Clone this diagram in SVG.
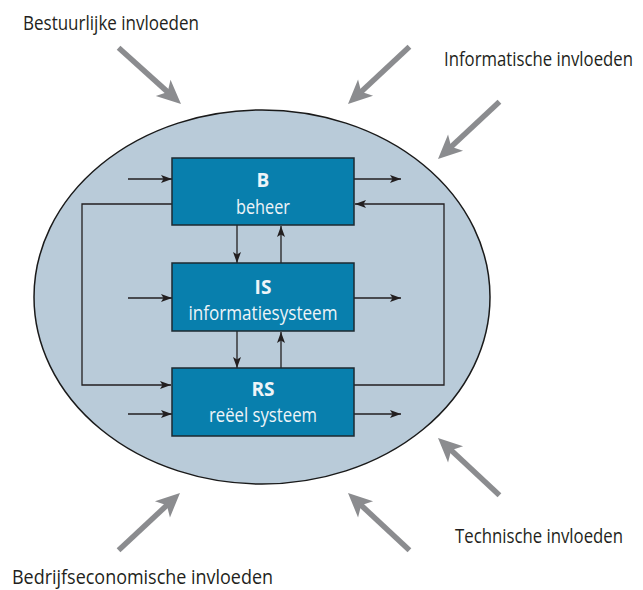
<svg xmlns="http://www.w3.org/2000/svg" width="643" height="590" viewBox="0 0 643 590">
  <style>
    .lbl { font-family: "Open Sans", "Noto Sans", "Liberation Sans", sans-serif; font-size: 20px; fill: #231f20; }
    .box { fill: #087fad; stroke: #1d2a30; stroke-width: 1.5; }
    .bt { font-family: "Open Sans", "Noto Sans", "Liberation Sans", sans-serif; font-size: 20px; fill: #eef4f8; text-anchor: middle; }
    .bt.b { font-weight: bold; font-size: 19px; }
    .flow { fill: none; stroke: #231f20; stroke-width: 1.3; }
  </style>
  <defs>
    <marker id="ah" markerUnits="userSpaceOnUse" markerWidth="12" markerHeight="10" viewBox="0 0 12 10" refX="11" refY="5" orient="auto">
      <path d="M0,1 L11,5 L0,9 L2.5,5 Z" fill="#231f20"/>
    </marker>
    <!-- wide grey arrow pointing along +x, tip at the origin -->
    <g id="bigArrow">
      <line x1="-84" y1="0" x2="-14" y2="0" stroke="#8b8c8f" stroke-width="5.5"/>
      <path d="M0,0 L-24,-11 L-18,0 L-24,11 Z" fill="#8b8c8f"/>
    </g>
  </defs>

  <!-- environment -->
  <g id="environment">
    <ellipse cx="262" cy="297" rx="228" ry="187" fill="#b9cbd9" stroke="#1a1a1a" stroke-width="1.5"/>
  </g>

  <!-- external influences -->
  <g id="influences">
    <use href="#bigArrow" transform="translate(181,104) rotate(42)"/>
    <use href="#bigArrow" transform="translate(348,104) rotate(137)"/>
    <use href="#bigArrow" transform="translate(438,159) rotate(137)"/>
    <use href="#bigArrow" transform="translate(438,438) rotate(-137)"/>
    <use href="#bigArrow" transform="translate(180,493) rotate(-43)"/>
    <use href="#bigArrow" transform="translate(348,493) rotate(-137)"/>
  </g>

  <!-- labels are set in a condensed cut (horizontal scale) -->
  <g id="labels">
    <text class="lbl" transform="translate(23,30) scale(0.85,1)" textLength="207" lengthAdjust="spacingAndGlyphs">Bestuurlijke invloeden</text>
    <text class="lbl" transform="translate(444,66) scale(0.84,1)" textLength="225" lengthAdjust="spacingAndGlyphs">Informatische invloeden</text>
    <text class="lbl" transform="translate(455,543) scale(0.84,1)" textLength="200" lengthAdjust="spacingAndGlyphs">Technische invloeden</text>
    <text class="lbl" transform="translate(12,584) scale(0.9,1)" textLength="290" lengthAdjust="spacingAndGlyphs">Bedrijfseconomische invloeden</text>
  </g>

  <!-- connectors -->
  <g id="connectors" class="flow">
    <!-- inputs -->
    <line x1="128" y1="179" x2="172" y2="179" marker-end="url(#ah)"/>
    <line x1="128" y1="298" x2="172" y2="298" marker-end="url(#ah)"/>
    <line x1="128" y1="414" x2="172" y2="414" marker-end="url(#ah)"/>
    <!-- outputs -->
    <line x1="354" y1="179" x2="401" y2="179" marker-end="url(#ah)"/>
    <line x1="354" y1="298" x2="401" y2="298" marker-end="url(#ah)"/>
    <line x1="354" y1="414" x2="401" y2="414" marker-end="url(#ah)"/>
    <!-- B to RS (left loop) -->
    <polyline points="172,204 82,204 82,385 171,385" marker-end="url(#ah)"/>
    <!-- RS to B (right loop) -->
    <polyline points="354,385 444,385 444,204 355,204" marker-end="url(#ah)"/>
    <!-- B <-> IS -->
    <line x1="237" y1="225" x2="237" y2="263" marker-end="url(#ah)"/>
    <line x1="281" y1="263" x2="281" y2="226" marker-end="url(#ah)"/>
    <!-- IS <-> RS -->
    <line x1="237" y1="331" x2="237" y2="368" marker-end="url(#ah)"/>
    <line x1="281" y1="368" x2="281" y2="332" marker-end="url(#ah)"/>
  </g>

  <g id="B">
    <rect class="box" x="172" y="158" width="182" height="67"/>
    <text class="bt b" x="263" y="187">B</text>
    <text class="bt" x="263" y="214" textLength="54" lengthAdjust="spacingAndGlyphs">beheer</text>
  </g>
  <g id="IS">
    <rect class="box" x="172" y="263" width="182" height="68"/>
    <text class="bt b" x="263" y="294">IS</text>
    <text class="bt" x="263" y="320" textLength="149" lengthAdjust="spacingAndGlyphs">informatiesysteem</text>
  </g>
  <g id="RS">
    <rect class="box" x="172" y="368" width="182" height="68"/>
    <text class="bt b" x="263" y="396">RS</text>
    <text class="bt" x="263" y="422" textLength="108" lengthAdjust="spacingAndGlyphs">reëel systeem</text>
  </g>
</svg>
